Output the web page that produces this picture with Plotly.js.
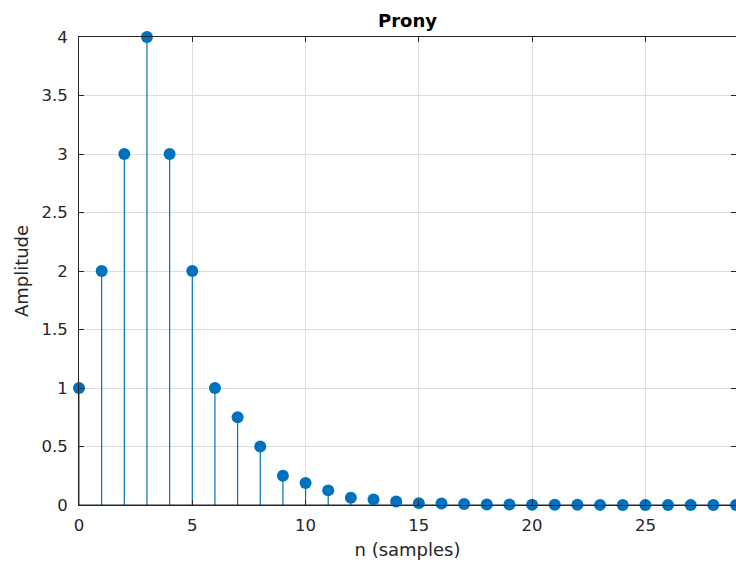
<!DOCTYPE html>
<html><head><meta charset="utf-8">
<script src="https://cdn.plot.ly/plotly-3.0.1.min.js"></script>
<style>html,body{margin:0;padding:0;background:#fff;}</style>
</head><body>
<div id="chart" style="width:736px;height:563px;"></div>
<script>
var n = [0,1,2,3,4,5,6,7,8,9,10,11,12,13,14,15,16,17,18,19,20,21,22,23,24,25,26,27,28,29];
var amplitude = [1,2,3,4,3,2,1,0.75,0.5,0.25,0.1875,0.125,0.0625,0.047,0.03,0.016,0.012,0.008,0.005,0.004,0.003,0.002,0.0015,0.001,0.0008,0.0006,0.0004,0.0003,0.0002,0.0001];
var xTicks = [0,5,10,15,20,25];
var yTicks = [0,0.5,1,1.5,2,2.5,3,3.5,4];
var yTickText = ['0','0.5','1','1.5','2','2.5','3','3.5','4'];

var stemX = [], stemY = [];
for (var i = 0; i < n.length; i++) {
  stemX.push(n[i], n[i], null);
  stemY.push(0, amplitude[i], null);
}
var stemColor = '#0072BD';
var FONT = 'DejaVu Sans, sans-serif';
var traces = [
  {x: stemX, y: stemY, mode: 'lines', type: 'scatter', line: {color: stemColor, width: 1.2}, hoverinfo: 'skip', cliponaxis: false},
  {x: [n[0], n[n.length-1]], y: [0, 0], mode: 'lines', type: 'scatter', line: {color: '#262626', width: 1.2}, hoverinfo: 'skip'},
  {x: n, y: amplitude, mode: 'markers', type: 'scatter', marker: {color: stemColor, size: 12, line: {width: 0}}, cliponaxis: false}
];
var axisFont = {family: FONT, size: 16.5, color: '#262626'};
var layout = {
  width: 736, height: 563,
  margin: {l: 79, r: 0, t: 37, b: 58, pad: 0},
  paper_bgcolor: '#fff', plot_bgcolor: '#fff',
  showlegend: false,
  title: {text: '<b>Prony</b>', font: {family: FONT, size: 18, color: '#000'}, x: 0.5, xanchor: 'center', xref: 'paper', y: 0.964, yref: 'container', yanchor: 'middle'},
  xaxis: {
    range: [0, 29], tickvals: xTicks, ticktext: xTicks.map(String),
    showgrid: true, gridcolor: '#dedede', gridwidth: 1,
    zeroline: false, showline: true, linecolor: '#262626', linewidth: 1, mirror: 'ticks',
    ticks: 'inside', ticklen: 5, tickcolor: '#262626', ticklabelstandoff: 5,
    tickfont: axisFont,
    title: {text: 'n (samples)', font: {family: FONT, size: 18, color: '#262626'}, standoff: 9}
  },
  yaxis: {
    range: [0, 4], tickvals: yTicks, ticktext: yTickText,
    showgrid: true, gridcolor: '#dedede', gridwidth: 1,
    zeroline: false, showline: true, linecolor: '#262626', linewidth: 1, mirror: 'ticks',
    ticks: 'inside', ticklen: 5, tickcolor: '#262626', ticklabelstandoff: 7,
    tickfont: axisFont,
    title: {text: 'Amplitude', font: {family: FONT, size: 18, color: '#262626'}, standoff: 8}
  }
};
Plotly.newPlot('chart', traces, layout, {displayModeBar: false, staticPlot: true});
</script>
</body></html>
